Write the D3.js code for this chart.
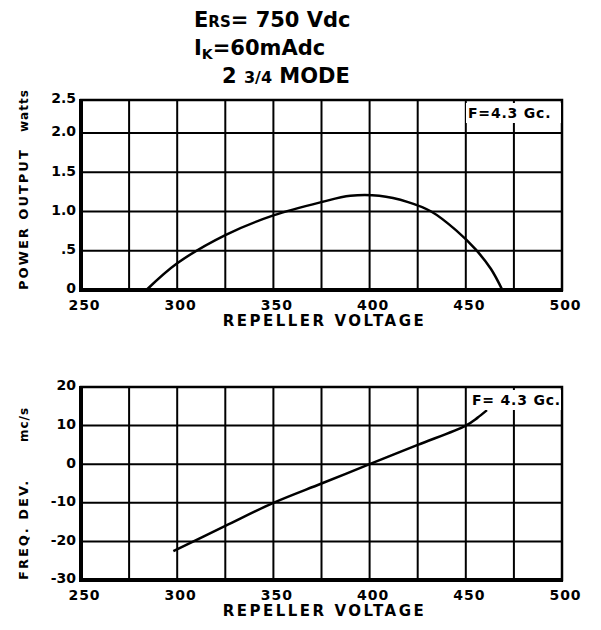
<!DOCTYPE html>
<html>
<head>
<meta charset="utf-8">
<script src="https://cdn.jsdelivr.net/npm/d3@7"></script>
<style>
  body { margin: 0; background: #fff; }
  text { font-family: "DejaVu Sans", sans-serif; font-weight: bold; fill: #000; }
</style>
</head>
<body>
<div id="chart"></div>
<script>
// data
var voltTicks = [250, 300, 350, 400, 450, 500];
var voltGrid = [275, 300, 325, 350, 375, 400, 425, 450, 475];
var powerTicks = [0, 0.5, 1.0, 1.5, 2.0, 2.5];
var powerLabels = ["0", ".5", "1.0", "1.5", "2.0", "2.5"];
var freqTicks = [-30, -20, -10, 0, 10, 20];
var freqLabels = ["-30", "-20", "-10", "0", "10", "20"];

// power output curve
var powerVolts = [284, 300, 325, 350, 375, 390, 405, 420, 432, 445, 455, 463, 469];
var powerWatts = [0, 0.34, 0.7, 0.95, 1.12, 1.2, 1.2, 1.12, 1.0, 0.76, 0.52, 0.27, 0];

// frequency deviation curve
var freqVolts = [298, 325, 350, 375, 400, 425, 450, 456, 461];
var freqDev = [-22.5, -16, -10, -5, 0, 5, 10, 12, 14];

var width = 601, height = 630;

var svg = d3.select("#chart")
    .append("svg")
    .attr("width", width)
    .attr("height", height);

// title
var title = svg.append("g").style("font-size", "21px");
var t1 = title.append("text").attr("x", 194).attr("y", 27);
t1.append("tspan").text("E");
t1.append("tspan").style("font-size", "15px").text("RS");
t1.append("tspan").text("= 750 Vdc");
var t2 = title.append("text").attr("x", 194).attr("y", 55);
t2.append("tspan").text("I");
t2.append("tspan").style("font-size", "14px").attr("dy", 4).text("K");
t2.append("tspan").attr("dy", -4).text("=60mAdc");
var t3 = title.append("text").attr("x", 222).attr("y", 83);
t3.append("tspan").text("2 ");
t3.append("tspan").style("font-size", "16px").text("3/4");
t3.append("tspan").text("  MODE");

var xScale = d3.scaleLinear().domain([250, 500]).range([81, 562]);

function drawPanel(yScale, ticks, labels, xs, ys, yTitle, yUnit, unitPos) {
    var yTop = yScale(ticks[ticks.length - 1]);
    var yBot = yScale(ticks[0]);
    var g = svg.append("g");

    // vertical grid
    g.selectAll(".vgrid")
        .data(voltGrid)
        .enter()
        .append("line")
        .attr("x1", d => xScale(d))
        .attr("x2", d => xScale(d))
        .attr("y1", yTop)
        .attr("y2", yBot)
        .attr("stroke", "#000")
        .attr("stroke-width", 2);

    // horizontal grid
    g.selectAll(".hgrid")
        .data(ticks.slice(1, -1))
        .enter()
        .append("line")
        .attr("x1", xScale(250))
        .attr("x2", xScale(500))
        .attr("y1", d => yScale(d))
        .attr("y2", d => yScale(d))
        .attr("stroke", "#000")
        .attr("stroke-width", 2);

    // frame: top and right thin, left and bottom heavy
    g.append("rect")
        .attr("x", xScale(250))
        .attr("y", yTop)
        .attr("width", xScale(500) - xScale(250))
        .attr("height", yBot - yTop)
        .attr("fill", "none")
        .attr("stroke", "#000")
        .attr("stroke-width", 2.5);
    g.append("line")
        .attr("x1", xScale(250)).attr("x2", xScale(250))
        .attr("y1", yTop - 1).attr("y2", yBot + 2)
        .attr("stroke", "#000").attr("stroke-width", 4);
    g.append("line")
        .attr("x1", xScale(250) - 2).attr("x2", xScale(500) + 1)
        .attr("y1", yBot).attr("y2", yBot)
        .attr("stroke", "#000").attr("stroke-width", 4);

    // x axis labels
    var xAxis = g.append("g")
        .attr("transform", "translate(3," + yBot + ")")
        .call(d3.axisBottom(xScale).tickValues(voltTicks).tickSize(0).tickPadding(10));
    xAxis.select(".domain").remove();
    xAxis.selectAll("text")
        .style("font-size", "14px")
        .style("font-family", "DejaVu Sans, sans-serif")
        .style("font-weight", "bold")
        .attr("letter-spacing", 1);

    // y axis labels
    var yAxis = g.append("g")
        .attr("transform", "translate(" + (xScale(250) - 3) + ",0)")
        .call(d3.axisLeft(yScale).tickValues(ticks).tickSize(0).tickPadding(2)
            .tickFormat((d, i) => labels[i]));
    yAxis.select(".domain").remove();
    yAxis.selectAll("text")
        .attr("dy", "0.2em")
        .style("font-size", "14px")
        .style("font-family", "DejaVu Sans, sans-serif")
        .style("font-weight", "bold");

    // x title
    g.append("text")
        .attr("x", (xScale(250) + xScale(500)) / 2 + 3)
        .attr("y", yBot + 36)
        .attr("text-anchor", "middle")
        .style("font-size", "15px")
        .attr("letter-spacing", 2.5)
        .text("REPELLER  VOLTAGE");

    // y title
    g.append("text")
        .attr("transform", "translate(28," + yBot + ") rotate(-90)")
        .attr("x", 0)
        .style("font-size", "13px")
        .attr("letter-spacing", 2)
        .text(yTitle);
    g.append("text")
        .attr("transform", "translate(28," + unitPos + ") rotate(-90)")
        .style("font-size", "12px")
        .attr("letter-spacing", 1)
        .text(yUnit);

    // the curve
    var pts = xs.map((v, i) => [v, ys[i]]);
    var line = d3.line()
        .x(d => xScale(d[0]))
        .y(d => yScale(d[1]))
        .curve(d3.curveCatmullRom);
    g.append("path")
        .datum(pts)
        .attr("d", line)
        .attr("fill", "none")
        .attr("stroke", "#000")
        .attr("stroke-width", 2.5);

    return { g: g, yTop: yTop };
}

// power output panel
var yPower = d3.scaleLinear().domain([0, 2, 2.5]).range([290, 133, 100]);
var p1 = drawPanel(yPower, powerTicks, powerLabels, powerVolts, powerWatts,
    "POWER  OUTPUT", "watts", 132);

// frequency panel
var yFreq = d3.scaleLinear().domain([-30, 20]).range([580, 387]);
var p2 = drawPanel(yFreq, freqTicks, freqLabels, freqVolts, freqDev,
    "FREQ.  DEV.", "mc/s", 442);

// frequency note boxes
function note(p, x, y, txt) {
    p.g.append("rect")
        .attr("x", x - 2)
        .attr("y", y - 15)
        .attr("width", xScale(500) - x + 1)
        .attr("height", 20)
        .attr("fill", "#fff");
    p.g.append("text")
        .attr("x", x)
        .attr("y", y)
        .style("font-size", "14px")
        .attr("letter-spacing", 0.8)
        .text(txt);
}
note(p1, 468, 118, "F=4.3 Gc.");
note(p2, 472, 405, "F= 4.3 Gc.");
</script>
</body>
</html>
